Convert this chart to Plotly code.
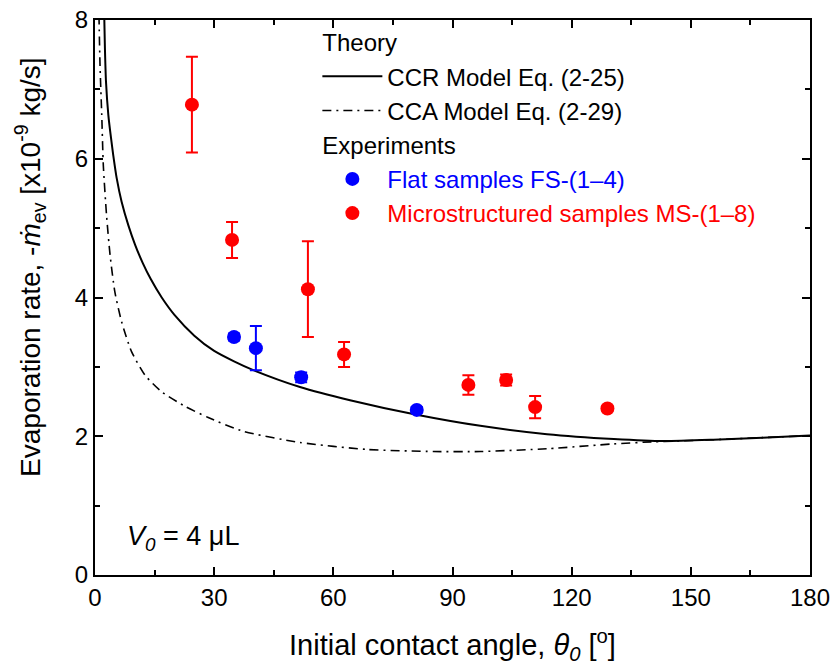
import plotly.graph_objects as go

# CCR model curve
ccr_x = [2.35, 2.5, 2.77, 3.36, 4.03, 4.6, 5.46, 6.7, 8.4, 10.1, 12, 14, 16.8, 20, 25, 30, 35, 40, 51.6, 64.2, 81, 97, 113.8, 130.6, 143.2, 155.7, 168, 180]
ccr_y = [8.0, 7.59, 7.11, 6.63, 6.30, 6.05, 5.72, 5.38, 5.04, 4.76, 4.50, 4.27, 4.00, 3.75, 3.45, 3.23, 3.08, 2.95, 2.71, 2.52, 2.31, 2.15, 2.03, 1.96, 1.93, 1.95, 1.98, 2.01]

# CCA model curve
cca_x = [1.0, 1.26, 1.7, 2.1, 2.9, 3.8, 5.0, 6.7, 9.2, 12.6, 16.8, 22.7, 28.5, 37.4, 51.6, 68.4, 85.2, 97, 113.8, 130.6, 140.6, 146, 155.7, 168, 180]
cca_y = [8.07, 7.35, 6.63, 5.9, 5.19, 4.61, 4.08, 3.65, 3.22, 2.88, 2.64, 2.43, 2.27, 2.07, 1.91, 1.81, 1.78, 1.78, 1.82, 1.89, 1.92, 1.93, 1.95, 1.98, 2.01]

# Flat samples FS-(1-4)
fs_x = [35.0, 40.5, 51.9, 81.0]
fs_y = [3.43, 3.27, 2.85, 2.38]
fs_err = [0.05, 0.32, 0.07, 0.04]

# Microstructured samples MS-(1-8)
ms_x = [24.4, 34.5, 53.6, 62.7, 94.0, 103.5, 110.8, 129.0]
ms_y = [6.78, 4.83, 4.12, 3.18, 2.74, 2.81, 2.42, 2.40]
ms_err = [0.69, 0.26, 0.69, 0.18, 0.14, 0.08, 0.16, 0.04]

FONT = "Liberation Sans, Arial, sans-serif"

fig = go.Figure()
fig.add_trace(go.Scatter(x=ccr_x, y=ccr_y, mode="lines", line=dict(color="black", width=2, shape="spline", smoothing=0.6),
                         name="CCR Model Eq. (2-25)", legendgroup="theory", legendgrouptitle_text="Theory"))
fig.add_trace(go.Scatter(x=cca_x, y=cca_y, mode="lines", line=dict(color="black", width=1.6, dash="9px,5px,2px,5px", shape="spline", smoothing=0.6),
                         name="CCA Model Eq. (2-29)", legendgroup="theory"))
fig.add_trace(go.Scatter(x=fs_x, y=fs_y, mode="markers", marker=dict(color="#0000FF", size=14),
                         error_y=dict(type="data", array=fs_err, color="#0000FF", thickness=2, width=6),
                         name="<span style='color:#0000FF'>Flat samples FS-(1\u20134)</span>",
                         legendgroup="exp", legendgrouptitle_text="Experiments"))
fig.add_trace(go.Scatter(x=ms_x, y=ms_y, mode="markers", marker=dict(color="#FF0000", size=14),
                         error_y=dict(type="data", array=ms_err, color="#FF0000", thickness=2, width=6),
                         name="<span style='color:#FF0000'>Microstructured samples MS-(1\u20138)</span>",
                         legendgroup="exp"))

axis_common = dict(showline=True, linecolor="black", linewidth=2, mirror="ticks", ticks="inside",
                   ticklen=8, tickwidth=2, tickcolor="black", showgrid=False, zeroline=False,
                   automargin=False, tickfont=dict(size=24, color="black", family=FONT))
fig.update_xaxes(range=[0, 180], tickvals=[0, 30, 60, 90, 120, 150, 180],
                 minor=dict(dtick=15, ticks="inside", ticklen=5, tickwidth=1.5, tickcolor="black"),
                 **axis_common)
fig.update_yaxes(range=[0, 8], tickvals=[0, 2, 4, 6, 8],
                 minor=dict(dtick=1, ticks="inside", ticklen=5, tickwidth=1.5, tickcolor="black"),
                 **axis_common)

# axis titles
fig.add_annotation(x=0.5, y=-0.126, xref="paper", yref="paper", xanchor="center", yanchor="middle",
                   text="Initial contact angle, <i>\u03b8<sub>0</sub></i> [<sup>o</sup>]", showarrow=False,
                   font=dict(size=29, color="black", family=FONT))
fig.add_annotation(x=-0.091, y=0.555, xref="paper", yref="paper", xanchor="center", yanchor="middle",
                   textangle=-90,
                   text="Evaporation rate, -<i>\u1e41</i><sub>ev</sub> [x10<sup>-9</sup> kg/s]", showarrow=False,
                   font=dict(size=28, color="black", family=FONT))

fig.add_annotation(x=0.042, y=0.067, xref="paper", yref="paper", xanchor="left", yanchor="middle",
                   text="<i>V<sub>0</sub></i> = 4 \u03bcL", showarrow=False,
                   font=dict(size=27, color="black", family=FONT))

fig.update_layout(
    width=837, height=669,
    margin=dict(l=95, r=27, t=20, b=94),
    plot_bgcolor="white", paper_bgcolor="white",
    font=dict(family=FONT, size=22, color="black"),
    legend=dict(x=0.311, y=1.0, xanchor="left", yanchor="top", bgcolor="rgba(0,0,0,0)",
                font=dict(size=24, family=FONT, color="black"), itemwidth=60, tracegroupgap=0,
                grouptitlefont=dict(size=24, family=FONT, color="black")),
)

fig.write_html("out.html", config={"displayModeBar": False},
               post_script="document.body.style.margin='0';document.body.style.padding='0';")
